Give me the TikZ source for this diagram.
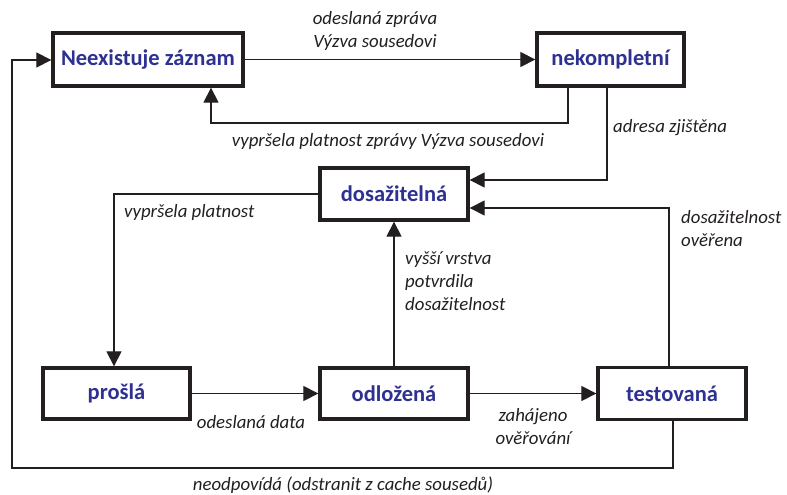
\documentclass[tikz,border=0pt]{standalone}
\usepackage{fontspec}
\setmainfont{Carlito}
\usetikzlibrary{arrows.meta}
\definecolor{statecol}{HTML}{2E3192}
\definecolor{inkcol}{HTML}{231F20}
\begin{document}
\begin{tikzpicture}[x=1pt,y=-1pt,
  state/.style={draw=inkcol, line width=3.3pt, fill=white, inner sep=0pt,
    text=statecol, font=\fontsize{22.5}{26}\selectfont\bfseries},
  conn/.style={draw=inkcol, line width=1.2pt, -{Triangle[length=15pt,width=15pt]}},
  lbl/.style={inner sep=0pt, text=inkcol, font=\fontsize{18.8}{23}\selectfont\itshape}
]
\useasboundingbox (0,0) rectangle (787,495);

% states
\node[state, minimum width=190pt, minimum height=53pt] (none) at (148,59.5) {Neexistuje záznam};
\node[state, minimum width=147pt, minimum height=53pt] (inc) at (610.5,59.5) {nekompletní};
\node[state, minimum width=148pt, minimum height=52pt] (reach) at (394,194) {dosažitelná};
\node[state, minimum width=147pt, minimum height=51pt] (stale) at (116.5,393.5) {prošlá};
\node[state, minimum width=148pt, minimum height=51pt] (delay) at (394,393.5) {odložená};
\node[state, minimum width=148pt, minimum height=52pt] (probe) at (672,393.5) {testovaná};

% bends of the connectors
\coordinate (c1) at (568,123);
\coordinate (c2) at (211,123);
\coordinate (c3) at (607,180);
\coordinate (c4) at (114,194);
\coordinate (c5) at (669,208);
\coordinate (c6) at (673,468);
\coordinate (c7) at (12,468);
\coordinate (c8) at (12,60);

% transitions
\draw[conn] (none.east) -- (inc.west);
\draw[conn] (c1 |- inc.south) -- (c1) -- (c2) -- (c2 |- none.south);
\draw[conn] (c3 |- inc.south) -- (c3) -- (c3 -| reach.east);
\draw[conn] (reach.west) -- (c4) -- (c4 |- stale.north);
\draw[conn] (stale.east) -- (delay.west);
\draw[conn] (delay.north) -- (reach.south);
\draw[conn] (delay.east) -- (probe.west);
\draw[conn] (c5 |- probe.north) -- (c5) -- (c5 -| reach.east);
\draw[conn] (c6 |- probe.south) -- (c6) -- (c7) -- (c8) -- (c8 -| none.west);

% transition labels
\node[lbl, align=center] (l1) at (375,31) {odeslaná zpráva\\Výzva sousedovi};
\node[lbl] (l2) at (388,141) {vypršela platnost zprávy Výzva sousedovi};
\node[lbl, anchor=west] (l3) at (613,128) {adresa zjištěna};
\node[lbl, anchor=west] (l4) at (124,212) {vypršela platnost};
\node[lbl, anchor=west, align=left] (l5) at (405,281) {vyšší vrstva\\potvrdila\\dosažitelnost};
\node[lbl] (l6) at (251,422) {odeslaná data};
\node[lbl, align=center] (l7) at (533,426.5) {zahájeno\\ověřování};
\node[lbl, anchor=west, align=left] (l8) at (681,228.5) {dosažitelnost\\ověřena};
\node[lbl] (l9) at (343,485) {neodpovídá (odstranit z cache sousedů)};
\end{tikzpicture}
\end{document}
